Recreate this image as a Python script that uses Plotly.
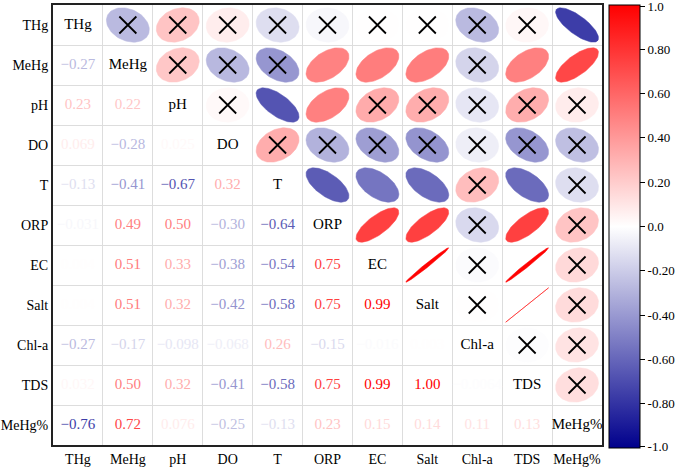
import numpy as np
import plotly.graph_objects as go
from plotly.colors import sample_colorscale

variables = ["THg", "MeHg", "pH", "DO", "T", "ORP", "EC", "Salt", "Chl-a", "TDS", "MeHg%"]

# lower-triangle correlations, row by row (row i has i values)
lower_rows = [
    [],
    [-0.27],
    [0.23, 0.22],
    [0.069, -0.28, 0.025],
    [-0.13, -0.41, -0.67, 0.32],
    [-0.031, 0.49, 0.50, -0.30, -0.64],
    [0.004, 0.51, 0.33, -0.38, -0.54, 0.75],
    [0.004, 0.51, 0.32, -0.42, -0.58, 0.75, 0.99],
    [-0.27, -0.17, -0.098, -0.068, 0.26, -0.15, -0.016, 0.003],
    [0.032, 0.50, 0.32, -0.41, -0.58, 0.75, 0.99, 1.00, -0.0064],
    [-0.76, 0.72, 0.076, -0.25, -0.13, 0.23, 0.15, 0.14, 0.11, 0.13],
]
sig_threshold = 0.45  # |r| below this is marked with a cross

colorbar_vals = [1.0, 0.8, 0.6, 0.4, 0.2, 0.0, -0.2, -0.4, -0.6, -0.8, -1.0]
colorbar_text = ["1.0", "0.80", "0.60", "0.40", "0.20", "0.0", "-0.20", "-0.40", "-0.60", "-0.80", "-1.0"]

n = len(variables)
R = np.eye(n)
for i, row in enumerate(lower_rows):
    for j, v in enumerate(row):
        R[i, j] = v
        R[j, i] = v

cscale = [[0.0, "rgb(0,0,140)"], [0.5, "rgb(255,255,255)"], [1.0, "rgb(255,0,0)"]]


def col(v):
    return sample_colorscale(cscale, [(v + 1) / 2])[0]


def fmt(v):
    s = f"{v:.2f}" if abs(v) >= 0.1 else f"{v:.2g}"
    return s.replace("-", "\u2212")


FONT = "Liberation Serif, Times New Roman, serif"
fig = go.Figure()

# ellipses (upper triangle)
t = np.linspace(0, 2 * np.pi, 80)
cross_x, cross_y = [], []
for i in range(n):
    for j in range(i + 1, n):
        r = R[i, j]
        d = np.arccos(np.clip(r, -1, 1))
        ex = np.cos(t + d / 2) * 0.43
        ey = np.cos(t - d / 2) * 0.43
        c = col(r)
        fig.add_trace(go.Scatter(
            x=j + ex, y=i - ey, mode="lines", fill="toself",
            fillcolor=c, line=dict(width=0.5, color=c),
            hoverinfo="skip", showlegend=False))
        if abs(r) < sig_threshold:
            cross_x.append(j)
            cross_y.append(i)

fig.add_trace(go.Scatter(
    x=cross_x, y=cross_y, mode="markers",
    marker=dict(symbol="x-thin", size=17, line=dict(width=1.8, color="black")),
    hoverinfo="skip", showlegend=False))

# lower triangle numbers
tx, ty, tt, tc = [], [], [], []
for i in range(n):
    for j in range(i):
        tx.append(j)
        ty.append(i)
        tt.append(fmt(R[i, j]))
        tc.append(col(R[i, j]))
fig.add_trace(go.Scatter(
    x=tx, y=ty, mode="text", text=tt,
    textfont=dict(family=FONT, size=15, color=tc),
    hoverinfo="skip", showlegend=False))

# diagonal labels
fig.add_trace(go.Scatter(
    x=list(range(n)), y=list(range(n)), mode="text", text=variables,
    textfont=dict(family=FONT, size=15, color="black"),
    hoverinfo="skip", showlegend=False))

# colorbar carrier
fig.add_trace(go.Scatter(
    x=[0], y=[0], mode="markers",
    marker=dict(size=0.1, opacity=0, color=[0], cmin=-1, cmax=1, colorscale=cscale,
                showscale=True,
                colorbar=dict(
                    x=1.0128, xanchor="left", xpad=0,
                    y=1, yanchor="top", ypad=0,
                    len=443, lenmode="pixels", thickness=31,
                    outlinewidth=1, outlinecolor="black",
                    ticks="outside", ticklen=5, tickcolor="black",
                    ticklabeloverflow="allow",
                    tickvals=[float(np.clip(v, -0.995, 0.995)) for v in colorbar_vals],
                    ticktext=colorbar_text,
                    tickfont=dict(family=FONT, size=13, color="black"))),
    hoverinfo="skip", showlegend=False))

half = [k + 0.5 for k in range(n - 1)]
fig.update_xaxes(
    range=[-0.5, n - 0.5], tickvals=list(range(n)), ticktext=variables,
    tickfont=dict(family=FONT, size=14, color="black"),
    showgrid=False, zeroline=False, showline=True, linewidth=2, linecolor="#222",
    mirror=True, ticks="", automargin=False,
    minor=dict(tickvals=half, showgrid=True, gridcolor="#DDDDDD", gridwidth=1, ticks=""))
fig.update_yaxes(
    range=[n - 0.5, -0.5], tickvals=list(range(n)), ticktext=variables,
    tickfont=dict(family=FONT, size=14, color="black"),
    showgrid=False, zeroline=False, showline=True, linewidth=2, linecolor="#222",
    mirror=True, ticks="", automargin=False,
    minor=dict(tickvals=half, showgrid=True, gridcolor="#DDDDDD", gridwidth=1, ticks=""))

fig.update_layout(
    width=685, height=470,
    margin=dict(l=53, r=83, t=5, b=25, autoexpand=False),
    plot_bgcolor="white", paper_bgcolor="white",
    font=dict(family=FONT, color="black"),
)

fig.write_html("out.html", config={"displayModeBar": False},
               post_script="document.body.style.margin='0px';document.body.style.overflow='hidden';")
